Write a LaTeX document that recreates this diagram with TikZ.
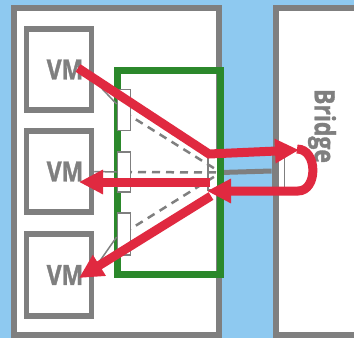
\documentclass[tikz,border=0pt]{standalone}
\usepackage{fontspec}
\newfontfamily\diagfont{Open Sans}[FakeStretch=0.82, BoldFeatures={FakeBold=1.2}]
\usetikzlibrary{arrows.meta,calc}

\definecolor{bgblue}{RGB}{142,201,240}
\definecolor{boxgray}{RGB}{127,127,127}
\definecolor{swgreen}{RGB}{43,136,43}
\definecolor{flowred}{RGB}{224,41,64}

\begin{document}
\begin{tikzpicture}[
    x=1pt, y=-1pt,
    box/.style={draw=boxgray, line width=6pt, fill=white, inner sep=0pt},
    vmbox/.style={box, line width=5.5pt, minimum width=65pt, minimum height=81pt},
    vmlabel/.style={font=\diagfont\bfseries\fontsize{28}{28}\selectfont,
                    text=boxgray, inner sep=0pt},
    port/.style={draw=boxgray, line width=1.8pt, fill=white,
                 minimum width=13pt, inner sep=0pt},
    vswitch/.style={draw=swgreen, line width=7pt, minimum width=103pt,
                    minimum height=204pt, inner sep=0pt},
    vlink/.style={draw=boxgray, line width=1.5pt},
    tunnel/.style={draw=boxgray, line width=2.5pt, dash pattern=on 8pt off 6pt},
    uplink/.style={draw=boxgray, line width=5pt},
    flow/.style={draw=flowred, line width=9pt,
                 -{Triangle[length=24pt,width=23pt]}},
]
\useasboundingbox (0,0) rectangle (354,338);
\clip (0,0) rectangle (354,338);
\fill[bgblue] (0,0) rectangle (354,338);

% --- host and bridge ---
\node[box, minimum width=205pt, minimum height=327pt] (host) at (116.5,171.5) {};
\node[box, minimum width=150pt, minimum height=327pt, anchor=west] (bridge) at (272.5,171.5) {};
\node[vmlabel, rotate=-90] (bridgelbl) at (322,126) {Bridge};

% --- uplink ports ---
\node[port, minimum width=12pt, minimum height=35pt] (nic) at (214,172.5) {};
\node[port, fill=none, minimum width=12pt, minimum height=38pt] (bport) at (278.5,171) {};
\draw[uplink] (nic.east) -- (bport.west);

% --- virtual switch ---
\draw[tunnel] (124,112) -- (nic.east);
\draw[tunnel] (124,172) -- (nic.east);
\draw[tunnel] (124,233) -- (nic.east);
\node[vswitch] (vsw) at (168.5,172) {};
\node[port, minimum height=41pt] (p1) at (124,110) {};
\node[port, minimum height=40pt] (p2) at (124,172) {};
\node[port, minimum height=42pt] (p3) at (124,234) {};

% --- VMs ---
\node[vmbox, label={[vmlabel, xshift=6pt]center:VM}] (vm1) at (59,69.5) {};
\node[vmbox, label={[vmlabel, xshift=6pt]center:VM}] (vm2) at (59,171.5) {};
\node[vmbox, minimum height=82pt, label={[vmlabel, xshift=6pt]center:VM}] (vm3) at (59,275) {};
\draw[vlink] ($(vm1.east)+(0,11)$) -- ($(p1.west)+(0,-6)$);
\draw[vlink] (vm2.east) -- (p2.west);
\draw[vlink] ($(p3.west)+(0,3)$) -- ($(vm3.east)+(0,-6)$);

% --- traffic ---
\coordinate (outsrc) at (78,68);
\coordinate (outbend) at (209,154);
\coordinate (outtip) at (299,150);
\coordinate (uturn) at (297,149);
\coordinate (uend) at (298,191);
\coordinate (intip) at (207,191);
\coordinate (fanA) at (210,182);
\coordinate (fanB) at (211,196);
\coordinate (vm2tip) at (79,182);
\coordinate (vm3tip) at (79,278);

\draw[flow] (outsrc) -- (outbend) -- (outtip);
\draw[flow] (uturn) .. controls (318,149) and (318,191) .. (uend) -- (intip);
\draw[flow] (fanA) -- (vm2tip);
\draw[flow] (fanB) -- (vm3tip);

\end{tikzpicture}
\end{document}
